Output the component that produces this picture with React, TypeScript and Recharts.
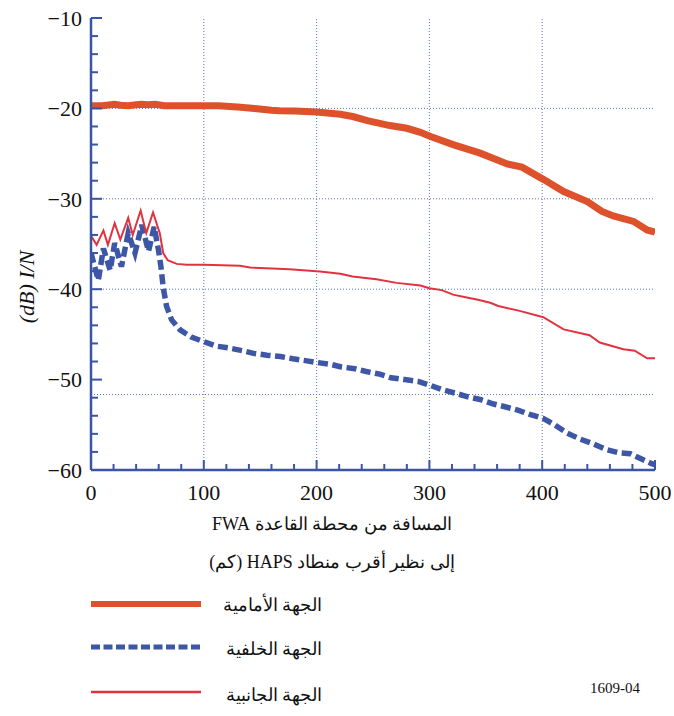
import React from "react";
import { LineChart, Line, XAxis, YAxis, ReferenceLine } from "recharts";

// front side (thick orange)
const frontKm = [0, 10, 21, 26, 33, 40, 45, 50, 57, 65, 80, 100, 113, 130, 145, 160, 167, 180, 200, 221, 232, 245, 265, 280, 292, 301, 321, 345, 369, 382, 401, 419, 440, 453, 463, 481, 493, 500];
const frontDb = [-19.7, -19.7, -19.55, -19.65, -19.7, -19.6, -19.55, -19.6, -19.55, -19.7, -19.7, -19.7, -19.7, -19.85, -20.0, -20.2, -20.25, -20.3, -20.4, -20.65, -20.9, -21.35, -21.9, -22.2, -22.65, -23.1, -24.0, -24.95, -26.15, -26.5, -27.85, -29.2, -30.3, -31.4, -31.9, -32.5, -33.45, -33.7];

// back side (blue dashed)
const backKm = [0, 6.5, 11, 17, 21, 27, 33, 39, 45, 51, 56, 60, 62, 64, 67, 71.5, 79, 89, 100, 111, 122, 134, 144, 156, 168, 179, 190, 200, 212, 222, 234, 244, 256, 266, 278, 290, 300, 311, 323, 334, 345, 357, 367, 379, 389, 401, 411, 422, 434, 445, 456, 468, 478, 490, 497, 500];
const backDb = [-36.0, -39.0, -35.5, -37.9, -34.9, -37.5, -33.8, -36.0, -32.9, -35.8, -33.1, -35.8, -37.5, -39.8, -41.9, -43.4, -44.5, -45.3, -45.8, -46.3, -46.5, -46.8, -47.1, -47.3, -47.45, -47.7, -47.9, -48.1, -48.3, -48.6, -48.8, -49.1, -49.4, -49.8, -50.0, -50.2, -50.6, -51.1, -51.5, -51.9, -52.2, -52.7, -53.0, -53.4, -53.85, -54.3, -55.0, -55.9, -56.6, -57.1, -57.7, -58.1, -58.2, -58.9, -59.3, -59.4];

// lateral side (thin red)
const sideKm = [0, 5, 11, 15, 21, 26, 33, 37, 44, 49, 55, 61, 64, 68, 76, 85, 100, 132, 141, 176, 203, 221, 232, 253, 271, 292, 300, 311, 321, 332, 342, 354, 361, 380, 401, 419, 442, 451, 472, 482, 493, 500];
const sideDb = [-34.1, -35.1, -33.5, -35.1, -32.7, -34.5, -32.1, -34.0, -31.3, -33.8, -31.5, -33.8, -36.0, -36.8, -37.2, -37.3, -37.3, -37.4, -37.6, -37.8, -38.05, -38.3, -38.6, -38.9, -39.3, -39.6, -39.9, -40.1, -40.6, -40.9, -41.15, -41.5, -41.85, -42.4, -43.1, -44.45, -45.1, -45.9, -46.65, -46.8, -47.65, -47.65];

const xLabels = [0, 100, 200, 300, 400, 500];
const xMinor = [0, 20, 40, 60, 80, 100, 120, 140, 160, 180, 200, 220, 240, 260, 280, 300, 320, 340, 360, 380, 400, 420, 440, 460, 480, 500];
const yLabels = [-10, -20, -30, -40, -50, -60];
const yMinor = [-10, -12, -14, -16, -18, -20, -22, -24, -26, -28, -30, -32, -34, -36, -38, -40, -42, -44, -46, -48, -50, -52, -54, -56, -58, -60];
const xGrid = [100, 200, 300, 400];
// the -50 dotted grid line sits a bit low in the original figure
const yGrid = [-20, -30, -40, -51.65];

const seriesNames = ["الجهة الأمامية", "الجهة الخلفية", "الجهة الجانبية"];

const ORANGE = "#de522b";
const BLUE = "#3d57a6";
const RED = "#e2323f";
const FRAME = "#3a55a6";
const GRID = "#5a74bb";
const SERIF = "Liberation Serif, DejaVu Serif, serif";

const W = 674;
const H = 716;
const TOP = 18;
const BOTTOM = 470;
const LEFT = 91;
const RIGHT = 655;

const toData = (km: number[], db: number[]) => km.map((k, i) => ({ km: k, db: db[i] }));
const frontData = toData(frontKm, frontDb);
const backData = toData(backKm, backDb);
const sideData = toData(sideKm, sideDb);

const fmtDb = (v: number) => (v < 0 ? "\u2212" + Math.abs(v) : String(v));

const BottomTick = (props: any) => {
    const { x, payload } = props;
    const major = xLabels.includes(payload.value);
    return (
        <g>
            <line x1={x} x2={x} y1={BOTTOM} y2={BOTTOM - (major ? 10 : 6)} stroke={FRAME} strokeWidth={2} />
            {major && (
                <text x={x} y={BOTTOM + 30} textAnchor="middle" style={{ fontFamily: SERIF }} fontSize={22} fill="#111">
                    {payload.value}
                </text>
            )}
        </g>
    );
};

const TopTick = (props: any) => {
    const { x, payload } = props;
    const major = xLabels.includes(payload.value);
    return <line x1={x} x2={x} y1={TOP} y2={TOP + (major ? 10 : 6)} stroke={FRAME} strokeWidth={2} />;
};

const LeftTick = (props: any) => {
    const { y, payload } = props;
    const major = yLabels.includes(payload.value);
    return (
        <g>
            <line x1={LEFT} x2={LEFT + (major ? 11 : 7)} y1={y} y2={y} stroke={FRAME} strokeWidth={2} />
            {major && (
                <text x={82} y={y} dy="0.35em" textAnchor="end" style={{ fontFamily: SERIF }} fontSize={22} fill="#111">
                    {fmtDb(payload.value)}
                </text>
            )}
        </g>
    );
};

const RightTick = (props: any) => {
    const { y, payload } = props;
    const major = yLabels.includes(payload.value);
    return <line x1={RIGHT} x2={RIGHT - (major ? 11 : 7)} y1={y} y2={y} stroke={FRAME} strokeWidth={2} />;
};

const abs = (left: number, top: number, extra: React.CSSProperties = {}): React.CSSProperties => ({
    position: "absolute",
    left,
    top,
    whiteSpace: "nowrap",
    fontFamily: SERIF,
    color: "#111",
    lineHeight: 1,
    ...extra,
});

export default function App() {
    return (
        <div style={{ position: "relative", width: W, height: H, background: "#fff", fontFamily: SERIF }}>
            <style>{"body{margin:0}"}</style>
            <LineChart width={W} height={H} margin={{ top: TOP, right: W - RIGHT, bottom: H - BOTTOM - 30, left: LEFT - 60 }}>
                <XAxis
                    xAxisId="b"
                    dataKey="km"
                    type="number"
                    domain={[0, 500]}
                    ticks={xMinor}
                    interval={0}
                    height={30}
                    axisLine={{ stroke: FRAME, strokeWidth: 2.5 }}
                    tickLine={false}
                    tick={<BottomTick />}
                    allowDataOverflow
                />
                <XAxis
                    xAxisId="t"
                    orientation="top"
                    dataKey="km"
                    type="number"
                    domain={[0, 500]}
                    ticks={xMinor}
                    interval={0}
                    height={0}
                    axisLine={{ stroke: FRAME, strokeWidth: 2.5 }}
                    tickLine={false}
                    tick={<TopTick />}
                    allowDataOverflow
                />
                <YAxis
                    yAxisId="l"
                    type="number"
                    domain={[-60, -10]}
                    ticks={yMinor}
                    interval={0}
                    width={60}
                    axisLine={{ stroke: FRAME, strokeWidth: 2.5 }}
                    tickLine={false}
                    tick={<LeftTick />}
                    allowDataOverflow
                />
                <YAxis
                    yAxisId="r"
                    orientation="right"
                    type="number"
                    domain={[-60, -10]}
                    ticks={yMinor}
                    interval={0}
                    width={0}
                    axisLine={{ stroke: FRAME, strokeWidth: 2.5 }}
                    tickLine={false}
                    tick={<RightTick />}
                    allowDataOverflow
                />
                {xGrid.map((v) => (
                    <ReferenceLine key={"x" + v} x={v} xAxisId="b" yAxisId="l" stroke={GRID} strokeWidth={1} strokeDasharray="1 2" />
                ))}
                {yGrid.map((v) => (
                    <ReferenceLine key={"y" + v} y={v} xAxisId="b" yAxisId="l" stroke={GRID} strokeWidth={1} strokeDasharray="1 2" />
                ))}
                <Line
                    data={backData}
                    xAxisId="b"
                    yAxisId="l"
                    dataKey="db"
                    type="linear"
                    stroke={BLUE}
                    strokeWidth={5.5}
                    strokeDasharray="10 4.5"
                    dot={false}
                    isAnimationActive={false}
                />
                <Line
                    data={sideData}
                    xAxisId="b"
                    yAxisId="l"
                    dataKey="db"
                    type="linear"
                    stroke={RED}
                    strokeWidth={2}
                    dot={false}
                    isAnimationActive={false}
                />
                <Line
                    data={frontData}
                    xAxisId="b"
                    yAxisId="l"
                    dataKey="db"
                    type="linear"
                    stroke={ORANGE}
                    strokeWidth={7}
                    dot={false}
                    isAnimationActive={false}
                />
            </LineChart>

            {/* y axis title */}
            <div style={abs(27, 287, { transform: "translate(-50%, -50%) rotate(-90deg)", fontSize: 22, fontStyle: "italic" })}>
                (dB) I/N
            </div>

            {/* x axis title, two lines */}
            <div dir="rtl" style={abs(332, 524, { transform: "translate(-50%, -50%)", fontSize: 18 })}>
                المسافة من محطة القاعدة FWA
            </div>
            <div dir="rtl" style={abs(332, 562, { transform: "translate(-50%, -50%)", fontSize: 18 })}>
                إلى نظير أقرب منطاد HAPS (كم)
            </div>

            {/* legend */}
            <svg width={W} height={H} style={{ position: "absolute", left: 0, top: 0, pointerEvents: "none" }}>
                <line x1={91} x2={201} y1={604} y2={604} stroke={ORANGE} strokeWidth={6} />
                <line x1={91} x2={201} y1={647} y2={647} stroke={BLUE} strokeWidth={5} strokeDasharray="9 3.5" />
                <line x1={91} x2={201} y1={692} y2={692} stroke={RED} strokeWidth={2.5} />
            </svg>
            {seriesNames.map((name, i) => (
                <div key={name} dir="rtl" style={abs(322, [605, 649, 695][i], { transform: "translate(-100%, -50%)", fontSize: 18 })}>
                    {name}
                </div>
            ))}

            <div style={abs(640, 688, { transform: "translate(-100%, -50%)", fontSize: 15 })}>1609-04</div>
        </div>
    );
}
